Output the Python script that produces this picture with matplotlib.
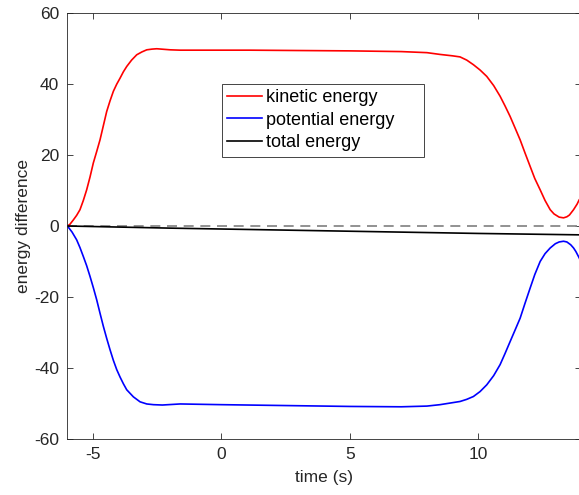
import matplotlib
matplotlib.use("Agg")
import matplotlib.pyplot as plt
import numpy as np

plt.rcParams['font.family'] = ['Liberation Sans', 'DejaVu Sans']
plt.rcParams['axes.unicode_minus'] = False

# values
kin_t = [-6.0, -5.9, -5.77, -5.64, -5.51, -5.38, -5.25, -5.12, -4.99, -4.86, -4.73, -4.6,
         -4.47, -4.34, -4.21, -4.08, -3.95, -3.82, -3.69, -3.5, -3.30, -3.1, -2.91, -2.7,
         -2.52, -2.0, -1.61, 0.0, 1.1, 3.0, 5.0, 7.0, 8.0, 8.51, 9.0, 9.29, 9.55, 9.81,
         10.07, 10.33, 10.6, 10.85, 11.04, 11.24, 11.43, 11.63, 11.82, 12.02, 12.2, 12.41,
         12.6, 12.80, 12.95, 13.15, 13.32, 13.45, 13.55, 13.71, 13.85, 13.93, 14.0]
kin_e = [0.0, 0.5, 1.7, 3.0, 4.6, 7.2, 10.2, 13.8, 17.8, 21.0, 24.3, 28.3,
         32.3, 35.3, 38.0, 40.0, 41.7, 43.5, 45.0, 46.8, 48.3, 49.1, 49.7, 49.9,
         50.0, 49.7, 49.6, 49.6, 49.6, 49.5, 49.4, 49.2, 48.9, 48.4, 48.0, 47.7, 46.8, 45.5,
         44.0, 42.2, 39.6, 36.6, 33.9, 30.9, 27.7, 24.3, 20.6, 16.8, 13.4, 10.2,
         7.2, 4.6, 3.4, 2.5, 2.3, 2.6, 3.1, 4.6, 6.2, 7.4, 8.0]

pot_t = [-6.0, -5.82, -5.64, -5.51, -5.38, -5.25, -5.12, -4.99, -4.86, -4.73, -4.60,
         -4.47, -4.34, -4.21, -4.08, -3.95, -3.82, -3.69, -3.43, -3.17, -2.91, -2.65,
         -2.3, -1.61, 0.0, 3.0, 5.0, 7.0, 8.0, 8.51, 9.29, 9.55, 9.81, 10.07, 10.33, 10.6,
         10.85, 11.04, 11.24, 11.43, 11.63, 11.82, 12.02, 12.2, 12.41, 12.6, 12.80, 13.0,
         13.15, 13.32, 13.45, 13.6, 13.71, 13.8, 13.93, 14.0]
pot_e = [0.0, -1.7, -3.9, -6.1, -8.6, -11.2, -14.2, -17.4, -20.8, -24.6, -28.3,
         -31.7, -34.9, -37.9, -40.5, -42.6, -44.5, -46.2, -48.2, -49.6, -50.2, -50.4,
         -50.5, -50.2, -50.4, -50.7, -50.9, -51.0, -50.8, -50.4, -49.5, -48.9, -48.1, -46.7, -44.8, -42.2,
         -39.1, -36.0, -32.6, -29.4, -26.0, -21.8, -17.5, -13.7, -10.0, -7.8, -6.2, -5.0,
         -4.5, -4.3, -4.5, -5.3, -6.2, -7.2, -9.0, -10.2]

tot_t = [-6.0, -4.0, -2.0, 2.0, 6.0, 10.0, 12.0, 14.0]
tot_e = [0.0, -0.3, -0.6, -1.1, -1.6, -2.1, -2.3, -2.5]

xticks = [-5, 0, 5, 10]
yticks = [-60, -40, -20, 0, 20, 40, 60]

fig = plt.figure(figsize=(5.79, 4.95), dpi=100)
ax = fig.add_axes([67.4 / 579, 56.3 / 495, 513.6 / 579, 425.4 / 495])

ax.plot([-6, 14], [0, 0], color='#7f7f7f', lw=1.2, dashes=(6, 4))
ax.plot(kin_t, kin_e, color='red', lw=1.2, label='kinetic energy')
ax.plot(pot_t, pot_e, color='blue', lw=1.2, label='potential energy')
ax.plot(tot_t, tot_e, color='black', lw=1.2, label='total energy')

ax.set_xlim(-6, 14)
ax.set_ylim(-60, 60)
ax.set_xticks(xticks)
ax.set_yticks(yticks)
ax.tick_params(direction='in', top=True, right=True, length=4, width=0.6,
               colors='#262626', labelsize=12.5, pad=6)
for s in ax.spines.values():
    s.set_color('#262626')
    s.set_linewidth(0.6)

ax.set_xlabel('time (s)', fontsize=12.5, color='#262626', labelpad=6)
ax.set_ylabel('energy difference', fontsize=12.5, color='#262626', labelpad=2)

leg = ax.legend(loc='upper left', bbox_to_anchor=(0.301, 0.834, 0.393, 0.0),
                mode='expand', borderaxespad=0,
                fancybox=False, framealpha=1, edgecolor='#262626', fontsize=13,
                handlelength=1.9, handletextpad=0.22, borderpad=0.3, labelspacing=0.3)
leg.get_frame().set_linewidth(0.6)

fig.savefig('out.png', dpi=100)
